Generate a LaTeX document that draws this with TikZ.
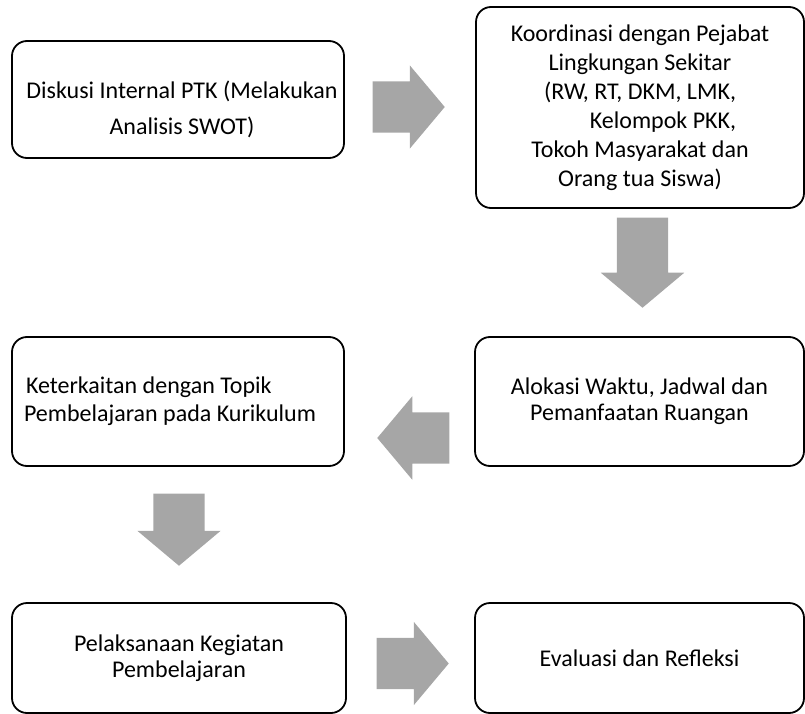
\documentclass[tikz,border=0pt]{standalone}
\usepackage{fontspec}
\setmainfont{Carlito}
\usepackage{tikz}
\usetikzlibrary{shapes.arrows}
\definecolor{arrowgray}{RGB}{166,166,166}

\begin{document}
\begin{tikzpicture}[
    x=1pt, y=-1pt,
    box/.style={rectangle, rounded corners=15pt, draw, line width=1.8pt, align=center, inner sep=0pt, font=\fontsize{24}{28}\selectfont},
    boxtext/.style={align=center, inner sep=0pt, font=\fontsize{24}{28}\selectfont},
    bigarrow/.style={single arrow, fill=arrowgray, draw=none, anchor=tip, single arrow head extend=16pt, single arrow tip angle=100},
    across/.style={bigarrow, inner xsep=0pt, inner ysep=25.5pt},
    downward/.style={bigarrow, inner xsep=25.5pt, inner ysep=0pt, shape border rotate=270}
]
\useasboundingbox (0,0) rectangle (805,714);

% Diskusi internal
\node[box, minimum width=332pt, minimum height=117pt] (diskusi) at (178,99.5) {};
\node[boxtext, xshift=4pt, yshift=-10pt] (diskusi-text) at (diskusi) {Diskusi Internal PTK (Melakukan\\[8pt] Analisis SWOT)};

% Koordinasi
\node[box, minimum width=328pt, minimum height=201pt] (koordinasi) at (640,107.5) {Koordinasi dengan Pejabat\\[1pt] Lingkungan Sekitar\\[1pt] (RW, RT, DKM, LMK,\\[1pt] \hspace*{46pt}Kelompok PKK,\\[1pt] Tokoh Masyarakat dan\\[1pt] Orang tua Siswa)};

% Alokasi waktu
\node[box, minimum width=329pt, minimum height=129pt] (alokasi) at (639.5,401.5) {Alokasi Waktu, Jadwal dan\\[-2pt] Pemanfaatan Ruangan};

% Keterkaitan topik
\node[box, minimum width=332pt, minimum height=129pt, text width=308pt, align=flush left] (keterkaitan) at (178,401.5) {\hspace*{2pt}Keterkaitan dengan Topik\\ Pembelajaran pada Kurikulum};

% Pelaksanaan
\node[box, minimum width=334pt, minimum height=110pt] (pelaksanaan) at (179,658) {Pelaksanaan Kegiatan\\[-2pt] Pembelajaran};

% Evaluasi
\node[box, minimum width=329pt, minimum height=110pt] (evaluasi) at (639.5,658) {Evaluasi dan Refleksi};

% Arrows (placed by their tips)
\node[across, minimum height=72pt] (arrow1) at (445,107) {};
\node[downward, minimum height=90pt] (arrow2) at (642.5,308) {};
\node[across, minimum height=72pt, shape border rotate=180] (arrow3) at (377,438) {};
\node[downward, minimum height=72pt] (arrow4) at (179,566) {};
\node[across, minimum height=72pt] (arrow5) at (449,663.5) {};

\end{tikzpicture}
\end{document}
